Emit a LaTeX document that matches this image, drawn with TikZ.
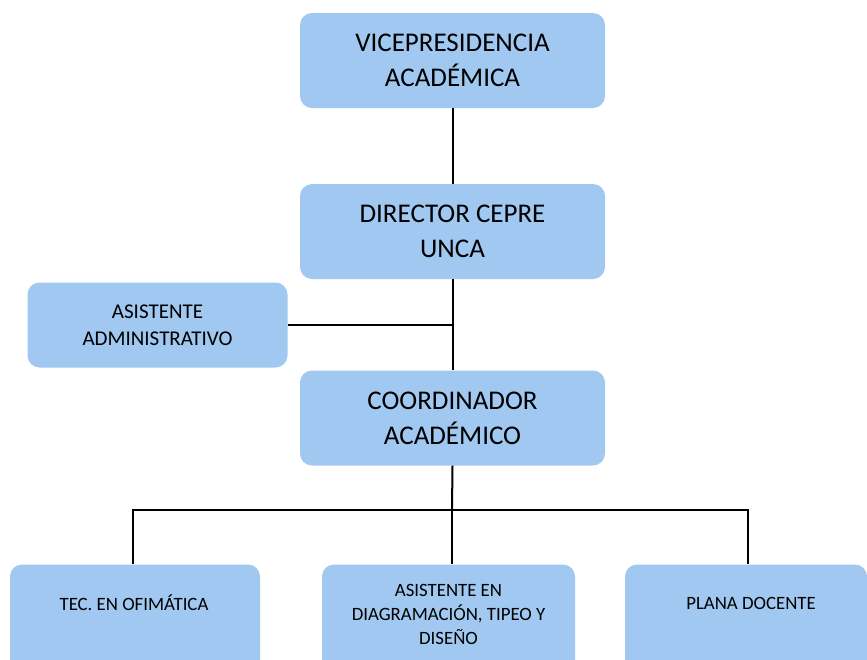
\documentclass[tikz,border=0pt]{standalone}
\usepackage{fontspec}
\setmainfont{Carlito}
\definecolor{boxblue}{RGB}{160,200,240}
\tikzset{
  bigbox/.style={fill=boxblue,rounded corners=12pt,minimum width=305pt,minimum height=95pt,align=center,font=\fontsize{27}{35}\selectfont,inner sep=0pt},
  midbox/.style={fill=boxblue,rounded corners=12pt,minimum width=260pt,minimum height=85pt,align=center,font=\fontsize{21}{27}\selectfont,inner sep=0pt},
  lowbox/.style={fill=boxblue,rounded corners=12pt,minimum height=115pt,inner sep=0pt},
  lowtext/.style={font=\fontsize{18.8}{24}\selectfont,align=center,inner sep=0pt},
  conn/.style={draw=black,line width=2pt}
}
\begin{document}
\begin{tikzpicture}[x=1pt,y=-1pt]
\useasboundingbox (0,0) rectangle (867,659);
\clip (0,0) rectangle (867,659);
\node[bigbox] (vp) at (452.5,60.5) {VICEPRESIDENCIA\\ACADÉMICA};
\node[bigbox] (dir) at (452.5,231.5) {DIRECTOR CEPRE\\UNCA};
\node[midbox] (asa) at (157.5,325) {ASISTENTE\\ADMINISTRATIVO};
\node[bigbox] (coo) at (452.5,418) {COORDINADOR\\ACADÉMICO};
\node[lowbox,minimum width=250pt] (tec) at (135,622) {};
\node[lowbox,minimum width=253pt] (dia) at (448.5,622) {};
\node[lowbox,minimum width=242pt] (pla) at (746,622) {};
\node[lowtext] (tect) at (134,603) {TEC. EN OFIMÁTICA};
\node[lowtext] (diat) at (448.5,614) {ASISTENTE EN\\DIAGRAMACIÓN, TIPEO Y\\DISEÑO};
\node[lowtext] (plat) at (751,603) {PLANA DOCENTE};
\coordinate (j1) at (452,322);
\coordinate (bus) at (452,510);
\draw[conn] (vp.south) -- (dir.north);
\draw[conn] (dir.south) -- (coo.north);
\draw[conn] (asa.east) -- (asa.east -| j1);
\draw[conn] (coo.south) -- (bus);
\draw[conn] (tec.north -| 133,0) |- (bus) -| (pla.north -| 748,0);
\draw[conn] (bus) -- (dia.north -| bus);
\end{tikzpicture}
\end{document}
